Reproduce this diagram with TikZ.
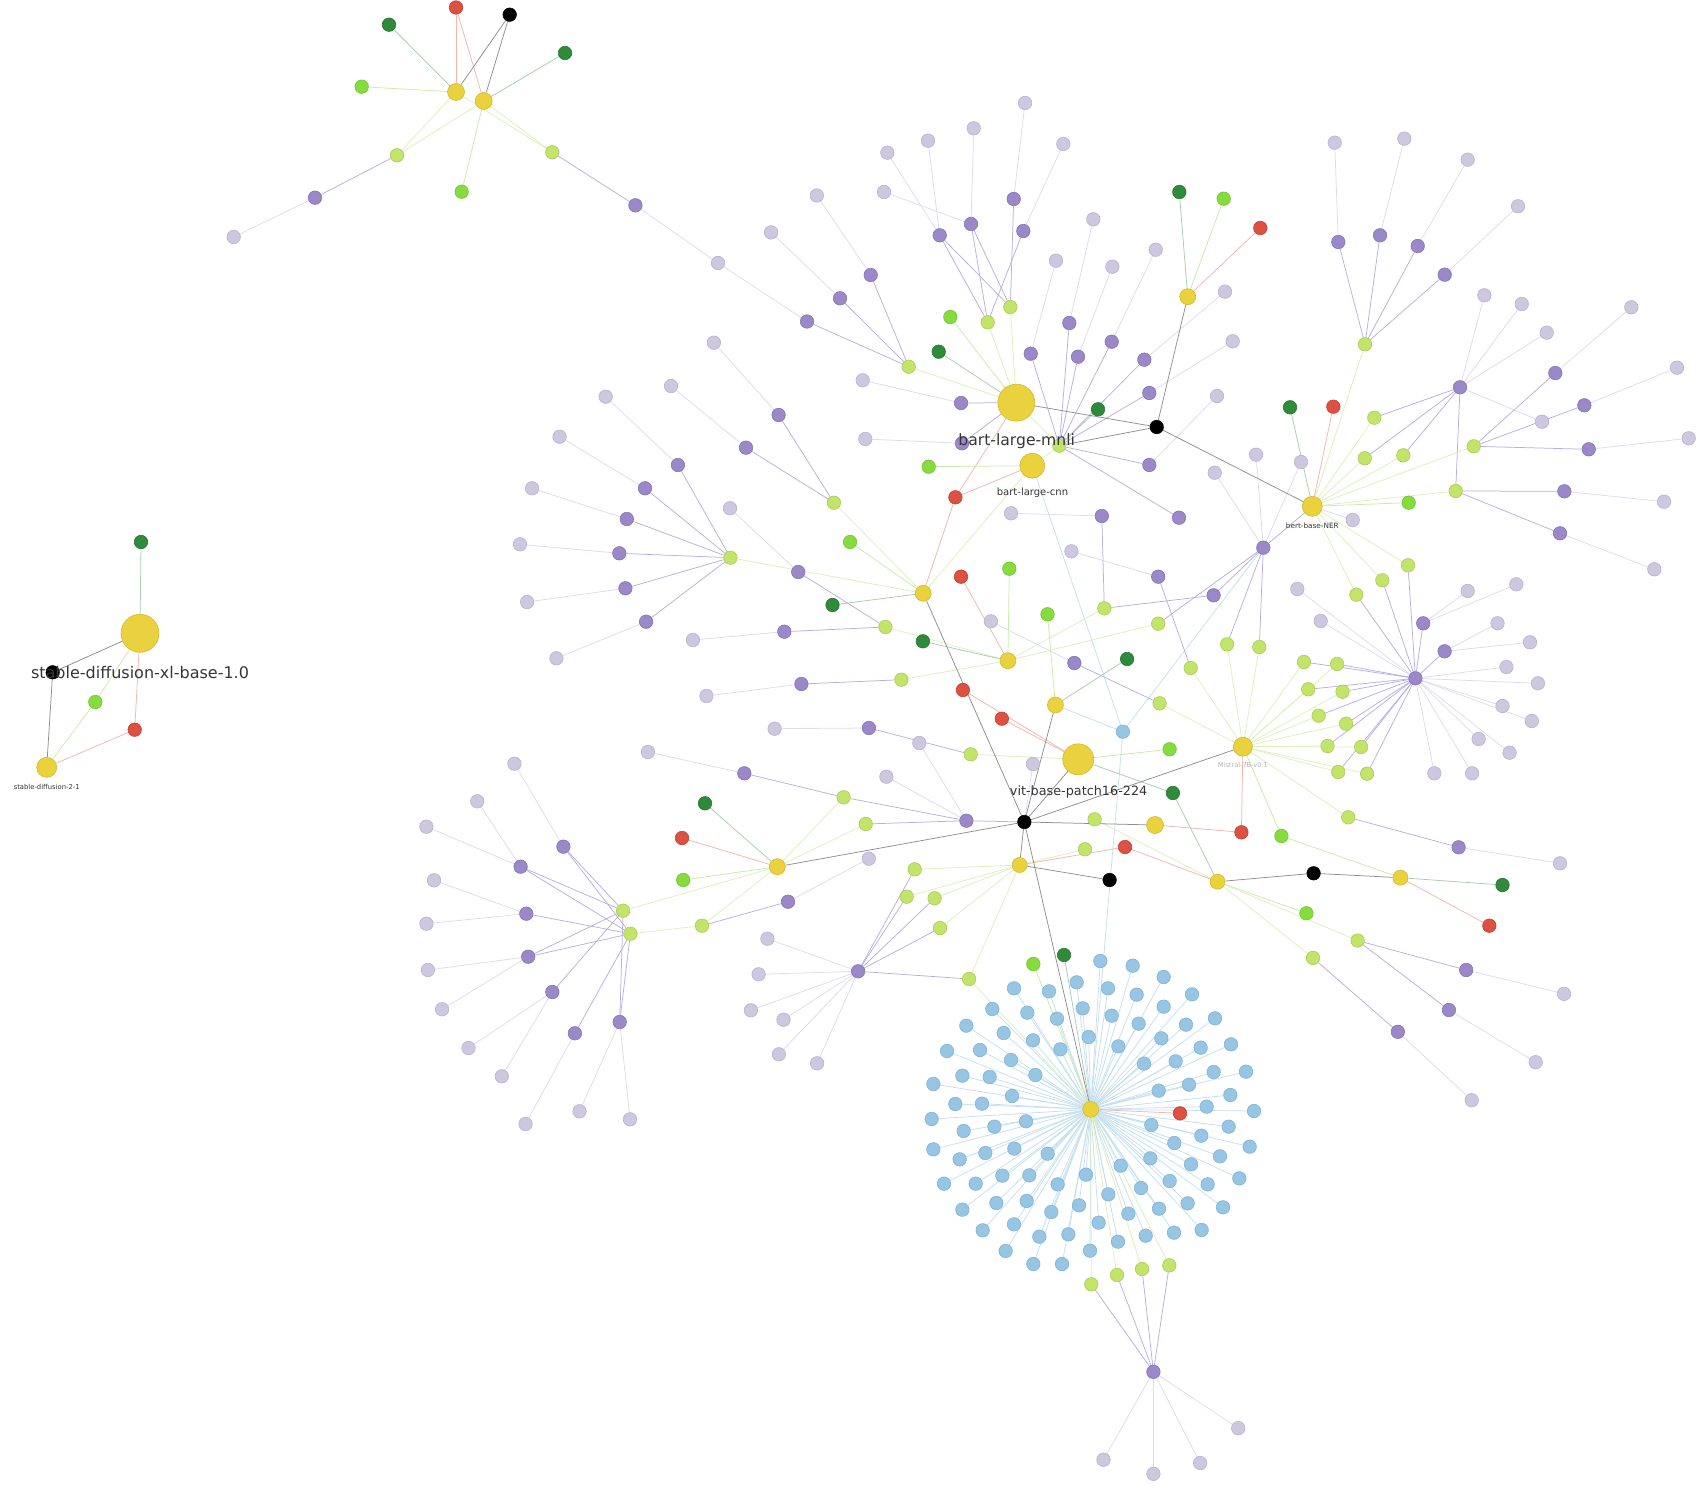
\documentclass[tikz,border=0pt]{standalone}
\usepackage{fontspec}
\newfontfamily\labfont{DejaVu Sans}
\pgfdeclarelayer{edges}
\pgfsetlayers{edges,main}
\definecolor{cY}{HTML}{E9D23D}\definecolor{cYd}{HTML}{D2B92B}
\definecolor{cL}{HTML}{CDC8DF}\definecolor{cLd}{HTML}{B8B2CF}
\definecolor{cP}{HTML}{9A88C8}\definecolor{cPd}{HTML}{8574B6}
\definecolor{cG}{HTML}{C2E46A}\definecolor{cGd}{HTML}{A9CC52}
\definecolor{cBG}{HTML}{86DB3F}\definecolor{cBGd}{HTML}{70C62E}
\definecolor{cDG}{HTML}{2F8A3C}\definecolor{cDGd}{HTML}{277532}
\definecolor{cR}{HTML}{DC5141}\definecolor{cRd}{HTML}{C4402F}
\definecolor{cB}{HTML}{97C6E4}\definecolor{cBd}{HTML}{7FB2D6}
\definecolor{eL}{HTML}{DEDAEE}\definecolor{eP}{HTML}{B9AEE2}
\definecolor{eG}{HTML}{DDEFBA}\definecolor{eBG}{HTML}{C8EBA8}
\definecolor{eDG}{HTML}{A8CCB0}\definecolor{eR}{HTML}{F3B5AC}
\definecolor{eK}{HTML}{8E8E8E}\definecolor{eB}{HTML}{C4DFF0}
\definecolor{txt}{HTML}{353535}
\tikzset{
  nd/.style={circle,inner sep=0pt,minimum size=13.5pt,line width=0.6pt},
  lav/.style={nd,fill=cL,draw=cLd},
  pur/.style={nd,fill=cP,draw=cPd},
  lgn/.style={nd,fill=cG,draw=cGd},
  bgn/.style={nd,fill=cBG,draw=cBGd},
  dgn/.style={nd,fill=cDG,draw=cDGd},
  rdn/.style={nd,fill=cR,draw=cRd},
  blk/.style={nd,fill=black,draw=black},
  blu/.style={nd,fill=cB,draw=cBd},
  yel/.style={nd,fill=cY,draw=cYd,minimum size=#1},
  ed/.style={line width=0.75pt},
  el/.style={ed,draw=eL}, ep/.style={ed,draw=eP}, eg/.style={ed,draw=eG},
  ebg/.style={ed,draw=eBG}, edg/.style={ed,draw=eDG}, er/.style={ed,draw=eR},
  ek/.style={ed,draw=eK}, eb/.style={ed,draw=eB},
  lbl/.style={inner sep=0pt,text=txt}
}
\begin{document}
\begin{tikzpicture}[x=1pt,y=-1pt]
\useasboundingbox (0,0) rectangle (1703,1495);
% yellow hubs
\foreach \n/\x/\y/\s in {ay1/456/92/17pt, ay2/483.7/101/17pt, sdxl/140/633.3/38pt, sd2/46.7/767.3/20pt,
  blm/1016.3/402.7/37pt, blc/1032.3/465.7/25pt, yc/1187.7/296.7/16pt, ner/1312.3/506.3/20pt,
  y5/923.2/593.3/16pt, y6/1007.9/660.7/16pt, y7/1055.4/705/16pt, mis/1242.9/746.7/19pt,
  vit/1078.2/759.3/31pt, y8/1155/825/17pt, y9/1019.6/865/15pt, y10/1217.5/881.7/15pt,
  y11/1400.4/877.7/15pt, y12/777.3/866.7/16pt, bh/1090.7/1109.3/16pt}
  \node[yel=\s] (\n) at (\x,\y) {};
% black
\foreach \n/\x/\y in {ak/509.7/14.7, bk/52.7/672.3, k1/1156.7/427, k2/1024.3/822, k3/1109.6/880, k4/1313.6/873.3}
  \node[blk] (\n) at (\x,\y) {};
% red
\foreach \n/\x/\y in {ar/456/7.5, br/134.7/729.7, r1/1260.3/228, r2/1333.3/406.7, r3/955.4/497.3, r4/961/576.7,
  r5/962.9/690, r6/1001.8/718.7, r7/1241.4/832.3, r8/1125/847, r9/1489.3/925.7, r10/682/838, r11/1180/1113.3}
  \node[rdn] (\n) at (\x,\y) {};
% dark green
\foreach \n/\x/\y in {adg1/389/24.7, adg2/565/53, bdg/141/542, dg1/938.7/351.7, dg2/1098/409.3, dg3/1179.3/192,
  dg4/1290/407.3, dg5/832.5/605, dg6/922.9/641.3, dg7/1127.1/659, dg8/1172.9/793, dg9/1502.5/885,
  dg10/705/803.3, dg11/1064/955}
  \node[dgn] (\n) at (\x,\y) {};
% bright green
\foreach \n/\x/\y in {abg1/361.7/86.7, abg2/461.7/191.7, bbg/95.3/702, bg1/950.3/317, bg2/928.7/466.7,
  bg3/1223.7/198.7, bg4/1408.7/502.7, bg5/850/542, bg6/1009.3/568.7, bg7/1047.5/614.3, bg8/1169.6/749.3,
  bg9/1281.4/836, bg10/1306.4/913.3, bg11/683.2/880, bg12/1033.3/964}
  \node[bgn] (\n) at (\x,\y) {};
% light green
\foreach \n/\x/\y in {alg1/397/155.3, alg2/552.3/152.3, g1/1010.3/307, g2/987.7/322.3, g3/908.7/366.7,
  g4/1059.3/445.7, g5/1365/344.3, g6/1374.3/417.7, g7/1364.7/458.3, g8/1403.3/455.3, g9/1473.7/446.3,
  g10/1455.7/491, g11/1408/565.3, g12/1382.3/580.3, g13/1356.3/594.7, g14/1104.3/608.3, g15/1158.2/623.7,
  g16/1227.1/644.3, g17/1259.3/647, g18/1190.7/668, g19/1159.6/703.3, g20/1303.9/662, g21/1337.1/664,
  g22/1308.2/689.3, g23/1342.5/691.7, g24/1318.6/715.7, g25/1346.1/723.7, g26/1327.5/746, g27/1361.1/747,
  g28/1338.2/772, g29/1367.1/773.7, g30/1348.2/817.3, g31/1094.6/819.3, g32/1085/849.3, g33/730.4/557.7,
  g34/833.9/502.7, g35/885.4/627, g36/901.4/679.7, g37/970.7/754.3, g38/843.6/797.3, g39/865.7/824,
  g40/623.1/910.7, g41/630.4/933.7, g42/702/925.7, g43/914.7/869.3, g44/906.7/896.7, g45/934.6/898.3,
  g46/940/928, g47/969.1/979, g48/1091.3/1284.3, g49/1117/1275, g50/1142/1269, g51/1169.3/1265.3,
  g52/1357.6/940.6, g53/1313/957.9}
  \node[lgn] (\n) at (\x,\y) {};
% purple
\foreach \n/\x/\y in {ap1/315/197.7, ap2/635.4/205.3, p1/1013.7/199, p2/971/224, p3/1023.3/231, p4/939.7/235.3,
  p5/870.7/275, p5b/840/298.3, p5c/807/321.5, p6/1069.3/323, p7/1030.7/353.7, p8/1078/356.7, p9/1111.7/341.7,
  p10/1144.3/359.7, p11/1149.3/393, p12/961/403, p13/962/443.3, p14/1149.3/465,
  q1/1338.3/242, q2/1380/235.3, q3/1417.7/246, q4/1444.7/274.7, q5/1460/387.3, q6/1555.3/373, q7/1584.3/405.3,
  q8/1588.7/449.3, q9/1564.3/491.3, q10/1560/533.3, pa/1263.3/547.7, pb/1101.8/516, pc/1179/517.7,
  pd/1158.2/576.7, pe/1213.6/595.3, pf/1423.2/623.3, pg/1444.6/651.3, ph/1415.4/678.3, pi/1074.3/663,
  pj/1458.6/847.3, pk/1466.2/970, pl/1448.9/1010, pm/1397.8/1031.8,
  m1/778.6/415, m2/746/447.7, m3/677.9/465, m4/645/488.3, m5/626.8/519, m6/619.3/553.3, m7/625.4/588.3,
  m8/646.1/621.7, m9/798.2/572, m10/784.3/631.7, m11/801.4/684, m12/868.9/728, m13/744.3/773.3, m14/966.4/820.7,
  n1/563.4/846.7, n2/520.6/866.7, n3/526.3/913.7, n4/528.2/956.7, n5/552.3/992, n6/574.9/1033.3, n7/619.7/1022,
  n8/788/901.7, n9/858.1/971.3, n10/1153.4/1371.8}
  \node[pur] (\n) at (\x,\y) {};
% lavender
\foreach \n/\x/\y in {al1/233.7/237, al2/718/263, l1/1025/103, l2/973.7/128.3, l3/928/140.7, l4/887.3/152.7,
  l5/1063.3/144, l6/884/192, l7/1093.3/219.3, l8/1056/260.7, l9/1112.3/266.7, l10/1155.7/249.7, l11/862.7/380.3,
  l12/865.3/439, l13/1225/291.7, l14/1232.7/341.3, l15/1217/396, l16/1256/454.7, l17/1214.7/472.7, l18/1301/462,
  l19/816.8/195.5, l20/771.1/232.4,
  t1/1334.7/142.7, t2/1404.3/138.7, t3/1467.7/159.7, t4/1518/206.3, t5/1484.3/295.3, t6/1521.7/304,
  t7/1546.7/332.7, t8/1631.3/307.3, t9/1677/367.7, t10/1542/421.7, t11/1688.7/438.3, t12/1664/501.7,
  t13/1654.3/569.3, t14/1352.7/520, t15/1297.3/589, t16/1467.7/591, t17/1516.3/584.3,
  u1/1011/513.3, u2/1071.4/551.3, u3/1320.7/621, u4/1497.5/623.3, u5/1530/642.3, u6/1506.4/667, u7/1537.9/683.3,
  u8/1502.5/706, u9/1531.8/721, u10/1478.6/739, u11/1509.6/752.7, u12/1434.3/773.3, u13/1472.1/773.3,
  u14/1032.9/764, u15/1560/863.3, u16/1564/993.8, u17/1535.7/1062.2, u18/1471.7/1100.2,
  v1/713.9/342.7, v2/671/386, v3/605.7/396.7, v4/559.6/436.7, v5/532.1/488.3, v6/520/544.3, v7/527.1/602,
  v8/556.4/658.3, v9/730/508.3, v10/692.9/640, v11/706.4/696, v12/774.6/728.7, v13/919.3/743, v14/647.9/752,
  v15/886.4/776.7, v16/990.9/621.3,
  w1/514.4/763.7, w2/477.3/801.3, w3/426.4/826.7, w4/434/880.3, w5/426.4/923.7, w6/427.9/970, w7/442.1/1009.3,
  w8/468.5/1048, w9/501.8/1076.3, w10/525.5/1124, w11/579.5/1111.3, w12/630/1119.3, w13/868.8/858.7,
  w14/767.4/938.7, w15/758.6/974.3, w16/750.9/1010.3, w17/783.5/1019.7, w18/778.9/1054.3, w19/817.1/1063.3,
  z1/1103.5/1459.7, z2/1153.4/1473.8, z3/1200.1/1463, z4/1238.2/1428.2}
  \node[lav] (\n) at (\x,\y) {};
% blue
\node[blu] (b0) at (1122.9,731.7) {};
\begin{scope}[shift={(900pt,-900pt)},x=0.33333pt,y=-0.33333pt]
\foreach \x/\y [count=\i] in {601/183, 698/197, 791/231, 342/265, 447/274, 530/247, 624/265, 710/284, 876/283,
  277/327, 382/338, 471/356, 548/325, 635/347, 791/320, 945/355, 199/377, 311/399, 399/421, 566/411, 716/371,
  858/374, 784/415, 141/453, 240/450, 333/480, 481/448, 655/439, 732/491, 827/484, 902/443, 993/433, 100/552,
  187/527, 269/531, 406/525, 941/516, 1038/515, 867/554, 166/612, 246/611, 336/588, 776/572, 991/585, 920/620,
  95/657, 191/693, 283/680, 378/664, 754/675, 1062/633, 986/680, 904/707, 100/748, 179/778, 256/759, 343/746,
  443/761, 751/775, 823/729, 873/793, 960/769, 1049/740, 132/851, 227/851, 307/827, 388/826, 473/853, 558/824,
  662/797, 723/864, 809/843, 923/853, 1018/835, 187/929, 289/909, 380/903, 454/936, 537/916, 625/883, 685/941,
  777/926, 863/910, 969/922, 248/991, 342/973, 418/1010, 505/1003, 596/968, 654/1025, 737/1007, 822/998,
  905/990, 317/1053, 400/1092, 486/1092, 570/1052}
  \node[blu] (bl\i) at (\x,\y) {};
\end{scope}
% edges
\begin{pgfonlayer}{edges}
\foreach \i in {1,...,97} \draw[eb] (bh) -- (bl\i);
\foreach \a/\b in {b0/bh, b0/pa, b0/blc, b0/y7} \draw[eb] (\a) -- (\b);
\foreach \a/\b in {al1/ap1, al2/ap2, al2/p5c, l1/p1, l2/p2, l3/p4, l4/p4, l5/p3, l6/p2, l7/p6, l8/p7, l9/p8,
  l10/p9, l11/p12, l12/p13, l13/p10, l14/p11, l15/p14, l16/pa, l17/pa, l18/pa, l19/p5, l20/p5b, t1/q1, t2/q2,
  t3/q3, t4/q4, t5/q5, t6/q5, t7/q5, t8/q6, t9/q7, t10/q5, t11/q8, t12/q9, t13/q10, t14/ner, t15/ph, t16/pf,
  t17/pf, u1/pb, u2/pd, u3/ph, u4/pg, u5/pg, u6/ph, u7/ph, u8/ph, u9/ph, u10/ph, u11/ph, u12/ph, u13/ph,
  u14/k2, u15/pj, u16/pk, u17/pl, u18/pm, v1/m1, v2/m2, v3/m3, v4/m4, v5/m5, v6/m6, v7/m7, v8/m8, v9/m9,
  v10/m10, v11/m11, v12/m12, v13/m14, v14/m13, v15/m14, v16/pi, w1/n1, w2/n2, w3/n2, w4/n3, w5/n3, w6/n4,
  w7/n4, w8/n5, w9/n5, w10/n6, w11/n7, w12/n7, w13/n8, w14/n9, w15/n9, w16/n9, w17/n9, w18/n9, w19/n9,
  z1/n10, z2/n10, z3/n10, z4/n10}
  \draw[el] (\a) -- (\b);
\foreach \a/\b in {ap1/alg1, ap2/alg2, p5c/g3, p1/g1, p2/g2, p2/g1, p4/g2, p4/g1, p3/g2, p5/g3, p5b/g3,
  p12/blm, p13/blm, p6/g4, p7/g4, p8/g4, p9/g4, p10/g4, p11/g4, p14/g4, pc/g4, q1/g5, q2/g5, q3/g5, q4/g5,
  q5/g6, q5/g7, q5/g8, q5/g10, q6/g9, q7/g9, q8/g9, q9/g10, q10/g10, pa/ner, pb/g14, pe/g14, pe/pa, pd/g18,
  pa/g15, pa/g16, pa/g17, pi/g19, ph/g11, ph/g12, ph/g13, ph/g20, ph/g21, ph/g22, ph/g23, ph/g24, ph/g25,
  ph/g26, ph/g27, ph/g28, ph/g29, ph/pf, ph/pg, pj/g30, pk/g52, pl/g52, pm/g53, m1/g34, m2/g34, m3/g33,
  m4/g33, m5/g33, m6/g33, m7/g33, m8/g33, m9/g35, m10/g35, m11/g36, m12/g37, m13/g38, m14/k2, m14/g38,
  m14/g39, n1/g40, n1/g41, n2/g40, n2/g41, n3/g41, n4/g40, n4/g41, n5/g40, n6/g41, n7/g40, n7/g41, n8/g42,
  n9/g43, n9/g44, n9/g45, n9/g46, n9/g47, n10/g48, n10/g49, n10/g50, n10/g51}
  \draw[ep] (\a) -- (\b);
\foreach \a/\b in {alg1/ay1, alg1/ay2, alg2/ay1, alg2/ay2, g1/blm, g2/blm, g3/blm, g4/blc, g4/blm, g5/ner,
  g6/ner, g7/ner, g8/ner, g9/ner, g10/ner, g11/ner, g12/ner, g13/ner, g14/y6, g15/y6, g16/mis, g17/mis,
  g18/mis, g19/mis, g20/mis, g21/mis, g22/mis, g23/mis, g24/mis, g25/mis, g26/mis, g27/mis, g28/mis, g29/mis,
  g30/mis, g31/y10, g32/y9, g33/y5, g34/y5, g35/y6, g36/y6, g37/vit, g38/y12, g39/y12, g40/y12, g41/g42,
  g42/y12, g43/y9, g44/y9, g45/y9, g46/y9, g47/y9, g47/bh, g48/bh, g49/bh, g50/bh, g51/bh, g52/y10, g53/y10,
  y5/blc}
  \draw[eg] (\a) -- (\b);
\foreach \a/\b in {abg1/ay1, abg2/ay2, bbg/sdxl, bbg/sd2, bg1/blm, bg2/blc, bg3/yc, bg4/ner, bg5/y5, bg6/y6,
  bg7/y7, bg8/vit, bg9/mis, bg9/y11, bg10/y10, bg11/y12, bg12/bh}
  \draw[ebg] (\a) -- (\b);
\foreach \a/\b in {adg1/ay1, adg2/ay2, bdg/sdxl, dg1/blm, dg2/g4, dg3/yc, dg4/ner, dg5/y5, dg6/y6, dg7/y7,
  dg8/vit, dg8/y10, dg9/y11, dg10/y12, dg11/bh}
  \draw[edg] (\a) -- (\b);
\foreach \a/\b in {ar/ay1, ar/ay2, br/sdxl, br/sd2, r1/yc, r2/ner, r3/blm, r3/blc, r3/y5, r4/y6, r5/vit,
  r6/vit, r7/y8, r7/mis, r8/y9, r8/y10, r9/y11, r10/y12, r11/bh}
  \draw[er] (\a) -- (\b);
\foreach \a/\b in {ak/ay1, ak/ay2, bk/sdxl, bk/sd2, k1/blm, k1/g4, k1/yc, k1/ner, k2/vit, k2/mis, k2/y8,
  k2/y5, k2/y7, k2/y9, k2/bh, k3/y9, k4/y10, k4/y11, y12/k2}
  \draw[ek] (\a) -- (\b);
\end{pgfonlayer}
% labels
\node[lbl,font=\labfont\fontsize{16}{19}\selectfont] (tsdxl) at (140,672.7) {stable-diffusion-xl-base-1.0};
\node[lbl,font=\labfont\fontsize{6.8}{8}\selectfont] (tsd2) at (46.7,787) {stable-diffusion-2-1};
\node[lbl,font=\labfont\fontsize{15.6}{18}\selectfont] (tblm) at (1016.7,441) {bart-large-mnli};
\node[lbl,font=\labfont\fontsize{10}{12}\selectfont] (tblc) at (1032.5,492.3) {bart-large-cnn};
\node[lbl,font=\labfont\fontsize{7.3}{9}\selectfont] (tner) at (1312.3,526) {bert-base-NER};
\node[lbl,text=black!30,font=\labfont\fontsize{6.6}{8}\selectfont] (tmis) at (1242.9,765) {Mistral-7B-v0.1};
\node[lbl,font=\labfont\fontsize{12.8}{15}\selectfont] (tvit) at (1078.6,791.7) {vit-base-patch16-224};
\end{tikzpicture}
\end{document}
